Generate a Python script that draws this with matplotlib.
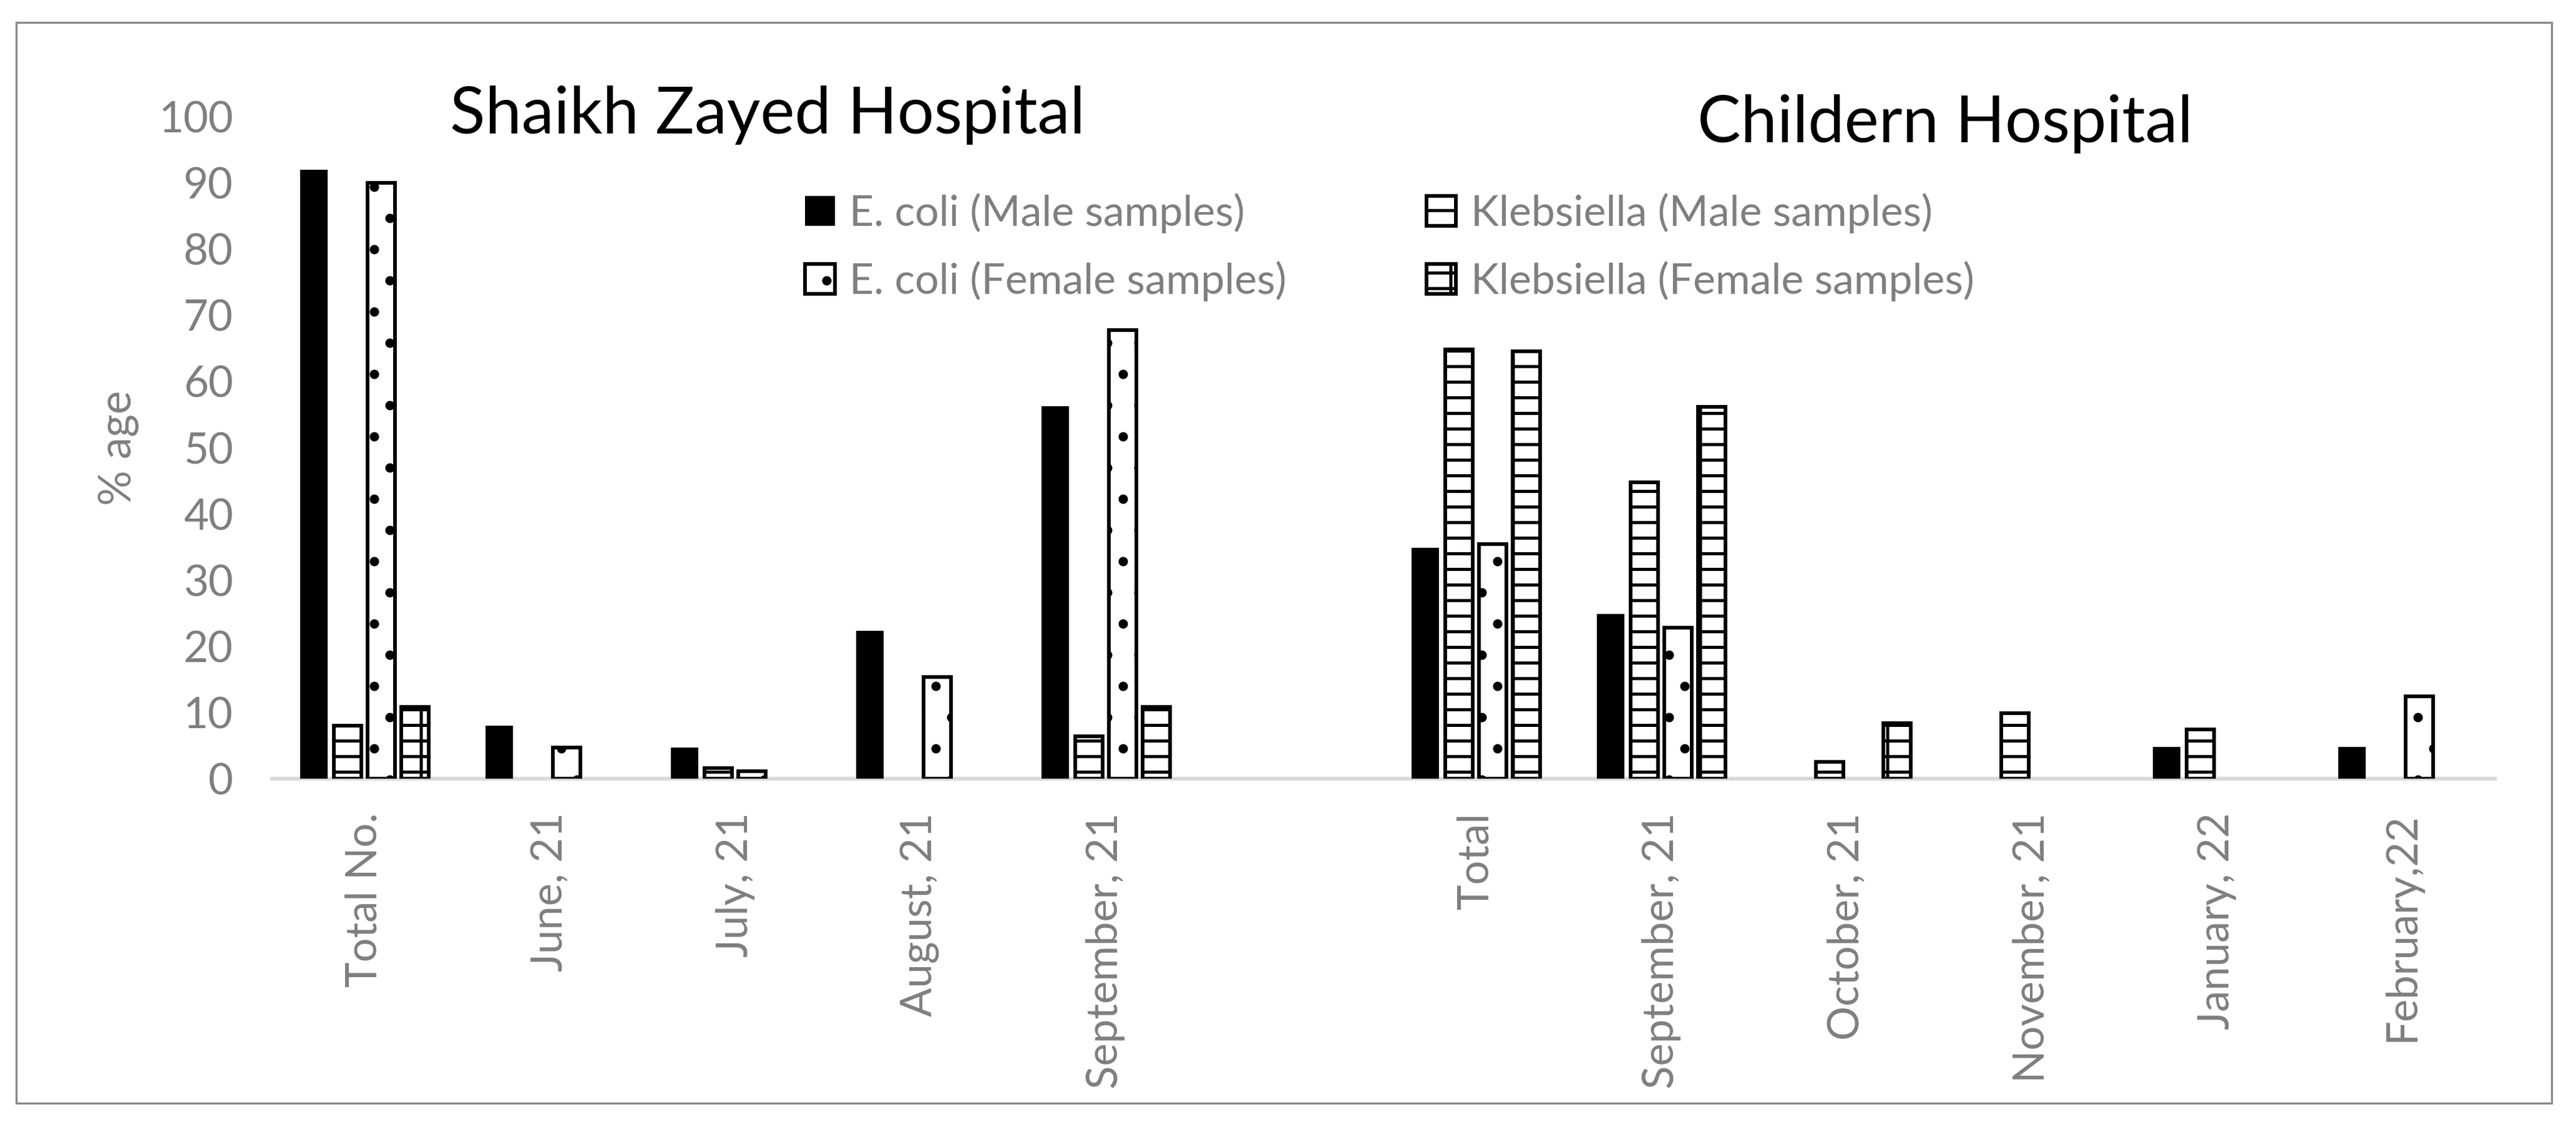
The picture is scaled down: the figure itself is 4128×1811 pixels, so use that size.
import numpy as np
import matplotlib
matplotlib.use("Agg")
import matplotlib.pyplot as plt
from matplotlib.patches import Rectangle

# ---------------- data ----------------
categories = ["Total No.", "June, 21", "July, 21", "August, 21", "September, 21", "",
              "Total", "September, 21", "October, 21", "November, 21", "January, 22", "February,22"]
ecoli_male   = [92.0, 8.0, 4.7, 22.3, 56.3, 0, 34.9, 24.9, 0, 0, 4.8, 4.8]
kleb_male    = [8.0, 0, 1.6, 0, 6.4, 0, 64.8, 44.8, 2.5, 9.9, 7.4, 0]
ecoli_female = [90.0, 4.7, 1.1, 15.4, 67.8, 0, 35.4, 22.8, 0, 0, 0, 12.4]
kleb_female  = [10.8, 0, 0, 0, 10.8, 0, 64.6, 56.2, 8.4, 0, 0, 0]
series_names = ["E. coli (Male samples)", "Klebsiella (Male samples)",
                "E. coli (Female samples)", "Klebsiella (Female samples)"]
yticks = list(range(0, 101, 10))
title_left = "Shaikh Zayed Hospital"
title_right = "Childern Hospital"
ylabel = "% age"

# ---------------- style ----------------
FONT = ["Lato", "DejaVu Sans"]
plt.rcParams['font.family'] = FONT
plt.rcParams['hatch.linewidth'] = 1.2
GREY = "#7f7f7f"

W, H = 4128, 1811
DPI = 300
fig = plt.figure(figsize=(W / DPI, H / DPI), dpi=DPI)
fig.patch.set_facecolor("white")

# outer frame
fig.add_artist(Rectangle((26 / W, 1 - 1768 / H), (4089 - 26) / W, (1768 - 36) / H,
                         transform=fig.transFigure, fill=False, edgecolor="#898989",
                         linewidth=0.8))

ax = fig.add_axes([436 / W, 1 - 1248 / H, (3998 - 436) / W, (1248 - 187) / H])

x = np.arange(len(categories))
pitch = 0.182
bw = 0.148
offsets = [-1.5 * pitch, -0.5 * pitch, 0.5 * pitch, 1.5 * pitch]
styles = [
    dict(facecolor="black", edgecolor="black", hatch=None, linewidth=0),
    dict(facecolor="white", edgecolor="black", hatch="--", linewidth=1.4),
    dict(facecolor="white", edgecolor="black", hatch=".", linewidth=1.4),
    dict(facecolor="white", edgecolor="black", hatch="--|", linewidth=1.4),
]
all_series = [ecoli_male, kleb_male, ecoli_female, kleb_female]
handles = []
for vals, off, st, name in zip(all_series, offsets, styles, series_names):
    v = np.array(vals, dtype=float)
    v[v == 0] = np.nan
    b = ax.bar(x + off, v, width=bw, zorder=3, label=name, **st)
    handles.append(b)

ax.set_xlim(-0.5, len(categories) - 0.5)
ax.set_ylim(0, 100)
ax.set_yticks(yticks)
ax.set_xticks(x)
ax.set_xticklabels(categories, rotation=90, color=GREY, fontsize=16.5)
ax.tick_params(axis='x', length=0, pad=13)
ax.tick_params(axis='y', length=0, pad=15, labelcolor=GREY, labelsize=16.5)
for s in ["left", "right", "top"]:
    ax.spines[s].set_visible(False)
ax.spines["bottom"].set_color("#d9d9d9")
ax.spines["bottom"].set_linewidth(1.5)
ax.spines["bottom"].set_zorder(2)
ax.set_ylabel(ylabel, color=GREY, fontsize=17, labelpad=7.5)
ax.patch.set_alpha(0)

fig.text(721 / W, 1 - 214 / H, title_left, fontsize=25, color="black",
         ha="left", va="baseline")
fig.text(2720 / W, 1 - 228 / H, title_right, fontsize=25, color="black",
         ha="left", va="baseline")

# legend: fill column-wise so that rows read E. coli | Klebsiella
order = [0, 2, 1, 3]
leg = fig.legend(handles=[handles[i] for i in order],
                 labels=[series_names[i] for i in order], ncol=2, loc="upper left",
                 bbox_to_anchor=(1290 / W, 1 - 309 / H), frameon=False,
                 fontsize=16.3, handlelength=0.7, handleheight=0.7,
                 handletextpad=0.35, columnspacing=3.3, labelspacing=0.65,
                 borderpad=0, borderaxespad=0)
for t in leg.get_texts():
    t.set_color(GREY)

fig.savefig("out.png", dpi=DPI)
